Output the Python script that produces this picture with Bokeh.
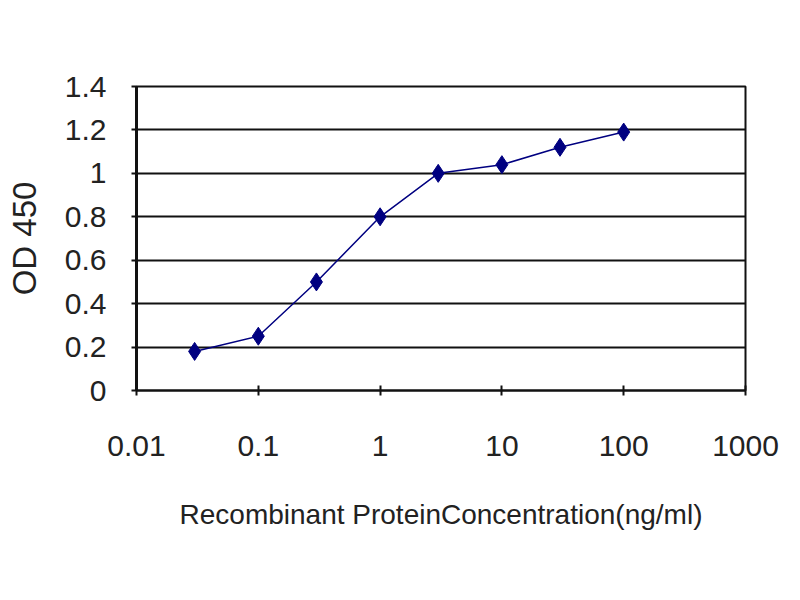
from bokeh.plotting import figure
from bokeh.models import FixedTicker, Range1d
from bokeh.embed import file_html
from bokeh.resources import INLINE

# data
concentration = [0.03, 0.1, 0.3, 1, 3, 10, 30, 100]
od450 = [0.18, 0.25, 0.50, 0.80, 1.00, 1.04, 1.12, 1.19]

x_ticks = [0.01, 0.1, 1, 10, 100, 1000]
x_tick_labels = ["0.01", "0.1", "1", "10", "100", "1000"]
y_ticks = [0, 0.2, 0.4, 0.6, 0.8, 1.0, 1.2, 1.4]
y_tick_labels = ["0", "0.2", "0.4", "0.6", "0.8", "1", "1.2", "1.4"]

FONT = "Liberation Sans"
NAVY = "#000080"

p = figure(width=800, height=600, x_axis_type="log",
           x_range=Range1d(0.01, 1000), y_range=Range1d(0, 1.4),
           output_backend="svg", toolbar_location=None,
           min_border_left=136, min_border_right=55,
           min_border_top=86, min_border_bottom=210)

p.background_fill_color = "white"
p.border_fill_color = "white"
p.outline_line_color = "#111111"
p.outline_line_width = 2

# grid
p.xgrid.visible = False
p.ygrid.ticker = FixedTicker(ticks=y_ticks)
p.ygrid.grid_line_color = "#111111"
p.ygrid.grid_line_width = 2

# x axis
p.xaxis.ticker = FixedTicker(ticks=x_ticks, minor_ticks=[])
p.xaxis.major_label_overrides = {t: l for t, l in zip(x_ticks, x_tick_labels)}
p.xaxis.axis_label = "Recombinant ProteinConcentration(ng/ml)"
p.xaxis.axis_label_text_font = FONT
p.xaxis.axis_label_text_font_size = "28px"
p.xaxis.axis_label_text_font_style = "normal"
p.xaxis.axis_label_text_color = "#222222"
p.xaxis.axis_label_standoff = 40
p.xaxis.major_label_text_font = FONT
p.xaxis.major_label_text_font_size = "30px"
p.xaxis.major_label_text_color = "#222222"
p.xaxis.major_label_standoff = 40
p.xaxis.major_tick_in = 5
p.xaxis.major_tick_out = 5
p.xaxis.minor_tick_line_color = None
p.xaxis.axis_line_color = "#111111"
p.xaxis.axis_line_width = 2
p.xaxis.major_tick_line_color = "#111111"
p.xaxis.major_tick_line_width = 2

# y axis
p.yaxis.ticker = FixedTicker(ticks=y_ticks, minor_ticks=[])
p.yaxis.major_label_overrides = {t: l for t, l in zip(y_ticks, y_tick_labels)}
p.yaxis.axis_label = "OD 450"
p.yaxis.axis_label_text_font = FONT
p.yaxis.axis_label_text_font_size = "33px"
p.yaxis.axis_label_text_font_style = "normal"
p.yaxis.axis_label_text_color = "#222222"
p.yaxis.axis_label_standoff = 19
p.yaxis.major_label_text_font = FONT
p.yaxis.major_label_text_font_size = "30px"
p.yaxis.major_label_text_color = "#222222"
p.yaxis.major_label_standoff = 25
p.yaxis.major_tick_in = 0
p.yaxis.major_tick_out = 5
p.yaxis.minor_tick_line_color = None
p.yaxis.axis_line_color = "#111111"
p.yaxis.axis_line_width = 3
p.yaxis.major_tick_line_color = "#111111"
p.yaxis.major_tick_line_width = 2

# series
p.line(concentration, od450, line_color=NAVY, line_width=1.5)
p.scatter(concentration, od450, marker="diamond", size=18,
          fill_color=NAVY, line_color=NAVY)

open("out.html", "w").write(file_html(p, INLINE))
